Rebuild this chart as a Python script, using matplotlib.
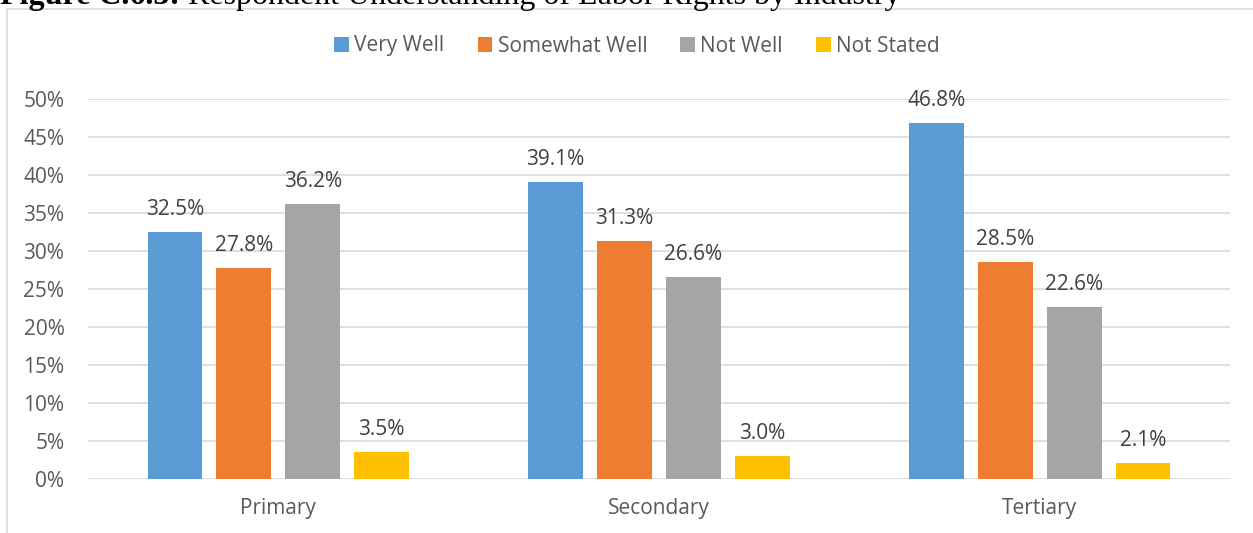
import matplotlib.pyplot as plt
import numpy as np
from matplotlib.patches import Rectangle

categories = ["Primary", "Secondary", "Tertiary"]
series = ["Very Well", "Somewhat Well", "Not Well", "Not Stated"]
very_well = [32.5, 39.1, 46.8]
somewhat_well = [27.8, 31.3, 28.5]
not_well = [36.2, 26.6, 22.6]
not_stated = [3.5, 3.0, 2.1]
colors = ["#5B9BD5", "#ED7D31", "#A5A5A5", "#FFC000"]
yticks = [0, 5, 10, 15, 20, 25, 30, 35, 40, 45, 50]

plt.rcParams['font.family'] = ['Open Sans', 'DejaVu Sans']
W, H = 1253, 533
fig = plt.figure(figsize=(W/100, H/100), dpi=100)

# chart frame
fig.patches.append(Rectangle((7/W, -0.01), 1.2, (H-9)/H + 0.01, transform=fig.transFigure,
                             fill=False, edgecolor="#D9D9D9", linewidth=1.2))
# title (cut off at the top edge as in the reference)
tsize = 23
t1 = fig.text(0/W, 1 - 4/H, "Figure C.6.3:", fontsize=tsize, fontweight='bold',
              family='Liberation Serif', va='baseline', ha='left')
fig.canvas.draw()
bb = t1.get_window_extent(renderer=fig.canvas.get_renderer())
fig.text(bb.x1/W, 1 - 4/H, " Respondent Understanding of Labor Rights by Industry", fontsize=tsize,
         family='Liberation Serif', va='baseline', ha='left')

ax = fig.add_axes([88/W, 1 - 479/H, (1230-88)/W, (479-99)/H])
data = [very_well, somewhat_well, not_well, not_stated]
x = np.arange(len(categories))
bw = 0.144
step = 0.181
for i, (name, vals, c) in enumerate(zip(series, data, colors)):
    pos = x + (i - 1.5) * step
    ax.bar(pos, vals, width=bw, color=c, label=name, zorder=3)
    for p, v in zip(pos, vals):
        ax.text(p, v + 1.6, f"{v:.1f}%", ha='center', va='bottom', fontsize=15, color="#404040")

ax.set_xlim(-0.5, 2.5)
ax.set_ylim(0, 50)
ax.set_yticks(yticks)
ax.set_yticklabels([f"{t}%" for t in yticks])
ax.yaxis.grid(True, color="#D9D9D9", linewidth=1.2, zorder=0)
ax.set_xticks(x)
ax.set_xticklabels(categories)
ax.tick_params(axis='both', length=0, labelsize=15, colors="#595959")
ax.tick_params(axis='x', pad=14)
ax.tick_params(axis='y', pad=17)
for s in ax.spines.values():
    s.set_visible(False)
ax.set_facecolor('none')

leg = fig.legend(loc='center', bbox_to_anchor=(637/W, 1 - 46/H), ncol=4, frameon=False,
                 fontsize=15, handlelength=0.7, handleheight=0.7, handletextpad=0.25,
                 columnspacing=1.6)
for t in leg.get_texts():
    t.set_color("#595959")

fig.savefig("out.png", dpi=100)
